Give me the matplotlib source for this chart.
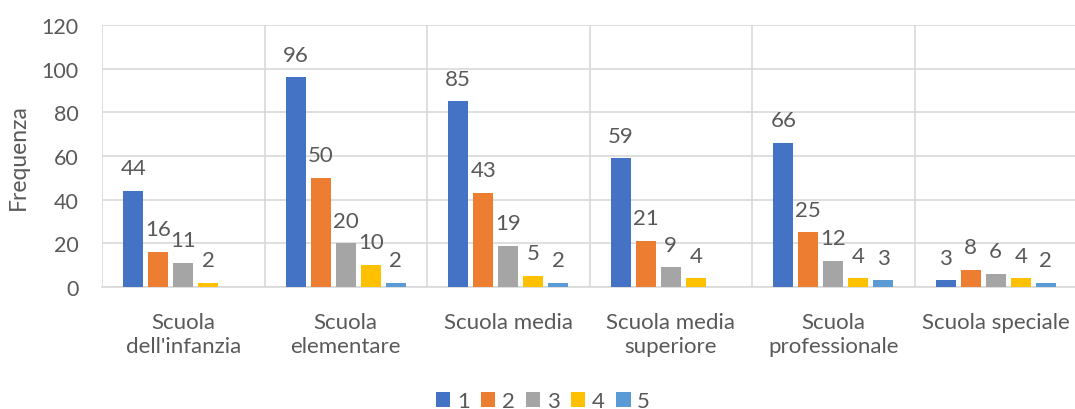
import matplotlib
matplotlib.use("Agg")
import matplotlib.pyplot as plt
import numpy as np

categories = ["Scuola\ndell'infanzia", "Scuola\nelementare", "Scuola media",
              "Scuola media\nsuperiore", "Scuola\nprofessionale", "Scuola speciale"]
series_names = ["1", "2", "3", "4", "5"]
s1 = [44, 96, 85, 59, 66, 3]
s2 = [16, 50, 43, 21, 25, 8]
s3 = [11, 20, 19, 9, 12, 6]
s4 = [2, 10, 5, 4, 4, 4]
s5 = [None, 2, 2, None, 3, 2]
series = [s1, s2, s3, s4, s5]
colors = ["#4472C4", "#ED7D31", "#A5A5A5", "#FFC000", "#5B9BD5"]
yticks = [0, 20, 40, 60, 80, 100, 120]

plt.rcParams['font.family'] = ['Lato', 'DejaVu Sans']
txt = "#595959"
grid = "#D9D9D9"
fs = 16

fig = plt.figure(figsize=(10.75, 4.10), dpi=100)
ax = fig.add_axes([102/1075, 1-288/410, 975/1075, 262/410])

x = np.arange(len(categories))
bw = 20/162.5
step = 25/162.5
for i, (vals, c, name) in enumerate(zip(series, colors, series_names)):
    xs = x + (i - 2) * step
    v = [np.nan if a is None else a for a in vals]
    ax.bar(xs, v, width=bw, color=c, label=name, zorder=3)
    for xi, a in zip(xs, vals):
        if a is not None:
            ax.annotate(str(a), (xi, a), xytext=(0, 12), textcoords="offset points",
                        ha="center", va="baseline", fontsize=fs, color=txt, zorder=4)

ax.set_xlim(-0.5, len(categories) - 0.5)
ax.set_ylim(0, 120)
ax.set_yticks(yticks)
ax.set_yticklabels([str(t) for t in yticks], fontsize=15.5, color=txt)
ax.set_xticks(x)
ax.set_xticklabels(categories, fontsize=fs, color=txt, linespacing=1.25)
ax.tick_params(axis="both", length=0)
ax.tick_params(axis="y", pad=17)
ax.tick_params(axis="x", pad=18)
ax.set_xticks(np.arange(-0.5, len(categories)), minor=True)
ax.tick_params(axis="x", which="minor", length=0)
ax.grid(axis="y", which="major", color=grid, linewidth=1.2, zorder=0)
ax.grid(axis="x", which="minor", color=grid, linewidth=1.2, zorder=0)
ax.grid(axis="x", which="major", visible=False)
for s in ["top", "right", "left"]:
    ax.spines[s].set_visible(False)
ax.spines["bottom"].set_color(grid)
ax.spines["bottom"].set_linewidth(1.2)
ax.set_ylabel("Frequenza", fontsize=16.5, color=txt)
ax.yaxis.set_label_coords(-0.0745, 0.5)

leg = fig.legend(loc="center", bbox_to_anchor=(0.505, 1-402/410), ncol=5, frameon=False,
                 fontsize=fs, handlelength=0.65, handleheight=0.65, handletextpad=0.3,
                 columnspacing=0.5, labelcolor=txt)

fig.savefig("out.png", dpi=100)
